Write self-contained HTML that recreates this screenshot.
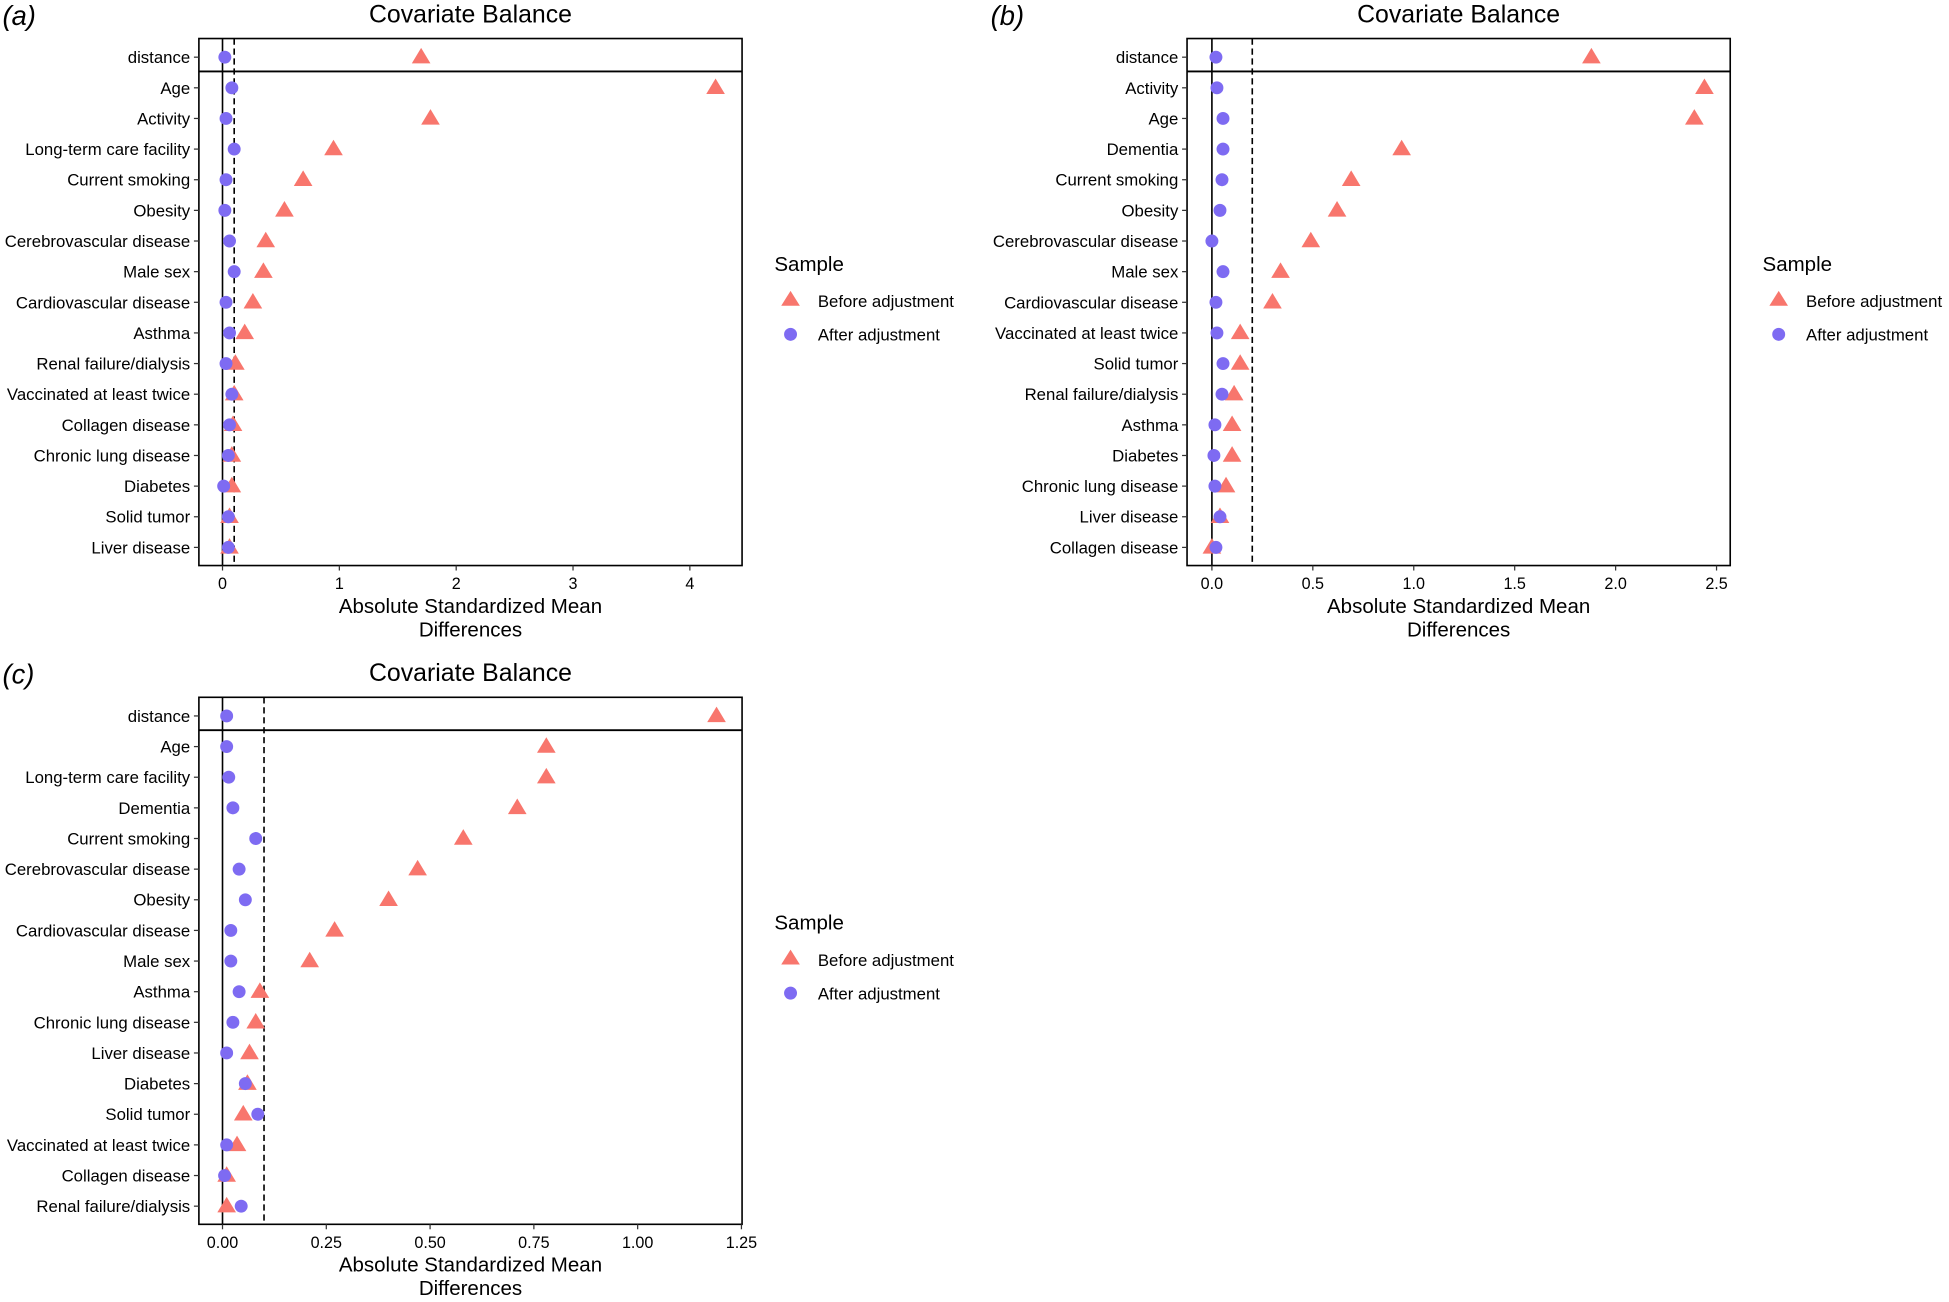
<!DOCTYPE html>
<html><head><meta charset="utf-8"><style>body{margin:0;background:#fff}svg{display:block}text{font-family:"Liberation Sans",Arial,sans-serif;fill:#000}</style></head>
<body>
<svg id="chart" width="1949" height="1302" viewBox="0 0 1568 1047.5" xmlns="http://www.w3.org/2000/svg"></svg>
<script>
const labelsA=["distance","Age","Activity","Long-term care facility","Current smoking","Obesity","Cerebrovascular disease","Male sex","Cardiovascular disease","Asthma","Renal failure/dialysis","Vaccinated at least twice","Collagen disease","Chronic lung disease","Diabetes","Solid tumor","Liver disease"];
const beforeA=[1.7,4.22,1.78,0.95,0.69,0.53,0.37,0.35,0.26,0.19,0.11,0.1,0.09,0.08,0.08,0.06,0.06];
const afterA=[0.02,0.08,0.03,0.1,0.03,0.02,0.06,0.1,0.03,0.06,0.03,0.08,0.06,0.05,0.01,0.05,0.05];
const ticksA=[0,1,2,3,4];
const tickLabelsA=["0","1","2","3","4"];
const labelsB=["distance","Activity","Age","Dementia","Current smoking","Obesity","Cerebrovascular disease","Male sex","Cardiovascular disease","Vaccinated at least twice","Solid tumor","Renal failure/dialysis","Asthma","Diabetes","Chronic lung disease","Liver disease","Collagen disease"];
const beforeB=[1.88,2.44,2.39,0.94,0.69,0.62,0.49,0.34,0.3,0.14,0.14,0.11,0.1,0.1,0.07,0.04,0.0];
const afterB=[0.02,0.025,0.055,0.055,0.05,0.04,0.0,0.055,0.02,0.025,0.055,0.05,0.015,0.01,0.015,0.04,0.02];
const ticksB=[0,0.5,1,1.5,2,2.5];
const tickLabelsB=["0.0","0.5","1.0","1.5","2.0","2.5"];
const labelsC=["distance","Age","Long-term care facility","Dementia","Current smoking","Cerebrovascular disease","Obesity","Cardiovascular disease","Male sex","Asthma","Chronic lung disease","Liver disease","Diabetes","Solid tumor","Vaccinated at least twice","Collagen disease","Renal failure/dialysis"];
const beforeC=[1.19,0.78,0.78,0.71,0.58,0.47,0.4,0.27,0.21,0.09,0.08,0.065,0.06,0.05,0.035,0.01,0.01];
const afterC=[0.01,0.01,0.015,0.025,0.08,0.04,0.055,0.02,0.02,0.04,0.025,0.01,0.055,0.085,0.01,0.005,0.045];
const ticksC=[0,0.25,0.5,0.75,1,1.25];
const tickLabelsC=["0.00","0.25","0.50","0.75","1.00","1.25"];

const NS="http://www.w3.org/2000/svg";
const svg=document.getElementById('chart');
function el(tag,attrs,parent,txt){const e=document.createElementNS(NS,tag);for(const k in attrs)e.setAttribute(k,attrs[k]);if(txt!==undefined)e.textContent=txt;(parent||svg).appendChild(e);return e;}

function panel(id,letter,ox,oy,x0px,pxPerUnit,thresh,labels,before,after,ticks,tickLabels,legX){
  const g=el('g',{});
  
  
  const L=ox,R=ox+437,T=oy,B=oy+424;
  const xs=v=>x0px+v*pxPerUnit;
  const ys=i=>oy+15+i*24.65;
  const pl=el('text',{x:ox-158,y:oy-11,'font-size':22,'font-style':'italic'},g,'('+letter+')');
  
  const t=el('text',{x:(L+R)/2,y:oy-13,'font-size':20,'text-anchor':'middle'},g,'Covariate Balance');
  
  const frame=el('rect',{x:L,y:T,width:R-L,height:B-T,fill:'none',stroke:'#000','stroke-width':1.3},g);
  
  const sep=el('line',{x1:L,x2:R,y1:oy+26.5,y2:oy+26.5,stroke:'#000','stroke-width':1.5},g);
  
  const z=el('line',{x1:xs(0),x2:xs(0),y1:T,y2:B,stroke:'#000','stroke-width':1.3},g);
  
  const d=el('line',{x1:xs(thresh),x2:xs(thresh),y1:T,y2:B,stroke:'#000','stroke-width':1.3,'stroke-dasharray':'5,3'},g);
  
  labels.forEach((lab,i)=>{
    const y=ys(i);
    el('line',{x1:L-4,x2:L,y1:y,y2:y,stroke:'#333','stroke-width':1},g);
    const tl=el('text',{x:L-7,y:y+4.8,'font-size':13.5,'text-anchor':'end'},g,lab);
    
  });
  labels.forEach((lab,i)=>{
    const y=ys(i),x=xs(before[i]);
    const tri=el('polygon',{points:`${x},${y-7.5} ${x-7.5},${y+5} ${x+7.5},${y+5}`,fill:'#F8766D'},g);
    
  });
  labels.forEach((lab,i)=>{
    const c=el('circle',{cx:xs(after[i]),cy:ys(i),r:5.2,fill:'#7E6BF2'},g);
    
  });
  ticks.forEach((v,i)=>{
    el('line',{x1:xs(v),x2:xs(v),y1:B,y2:B+4,stroke:'#333','stroke-width':1},g);
    const tx=el('text',{x:xs(v),y:B+19,'font-size':13,'text-anchor':'middle','fill':'#222'},g,tickLabels[i]);
    
  });
  const a1=el('text',{x:(L+R)/2,y:B+38,'font-size':16.5,'text-anchor':'middle'},g,'Absolute Standardized Mean');
  
  el('text',{x:(L+R)/2,y:B+57,'font-size':16.5,'text-anchor':'middle'},g,'Differences');
  const lg=el('g',{},g);
  
  const ly=oy+182;
  el('text',{x:legX,y:ly+5,'font-size':16.5},lg,'Sample');
  const lx=legX+13;
  el('polygon',{points:`${lx},${ly+21} ${lx-7.5},${ly+33} ${lx+7.5},${ly+33}`,fill:'#F8766D'},lg);
  const e1=el('text',{x:legX+35,y:ly+34,'font-size':13.5},lg,'Before adjustment');
  
  el('circle',{cx:lx,cy:ly+56,r:5.2,fill:'#7E6BF2'},lg);
  const e2=el('text',{x:legX+35,y:ly+61,'font-size':13.5},lg,'After adjustment');
  
}
panel('a','a',160,31,179,94,0.1,labelsA,beforeA,afterA,ticksA,tickLabelsA,623);
panel('b','b',955,31,975,162.4,0.2,labelsB,beforeB,afterB,ticksB,tickLabelsB,1418);
panel('c','c',160,561,179,334,0.1,labelsC,beforeC,afterC,ticksC,tickLabelsC,623);
</script>
</body></html>
